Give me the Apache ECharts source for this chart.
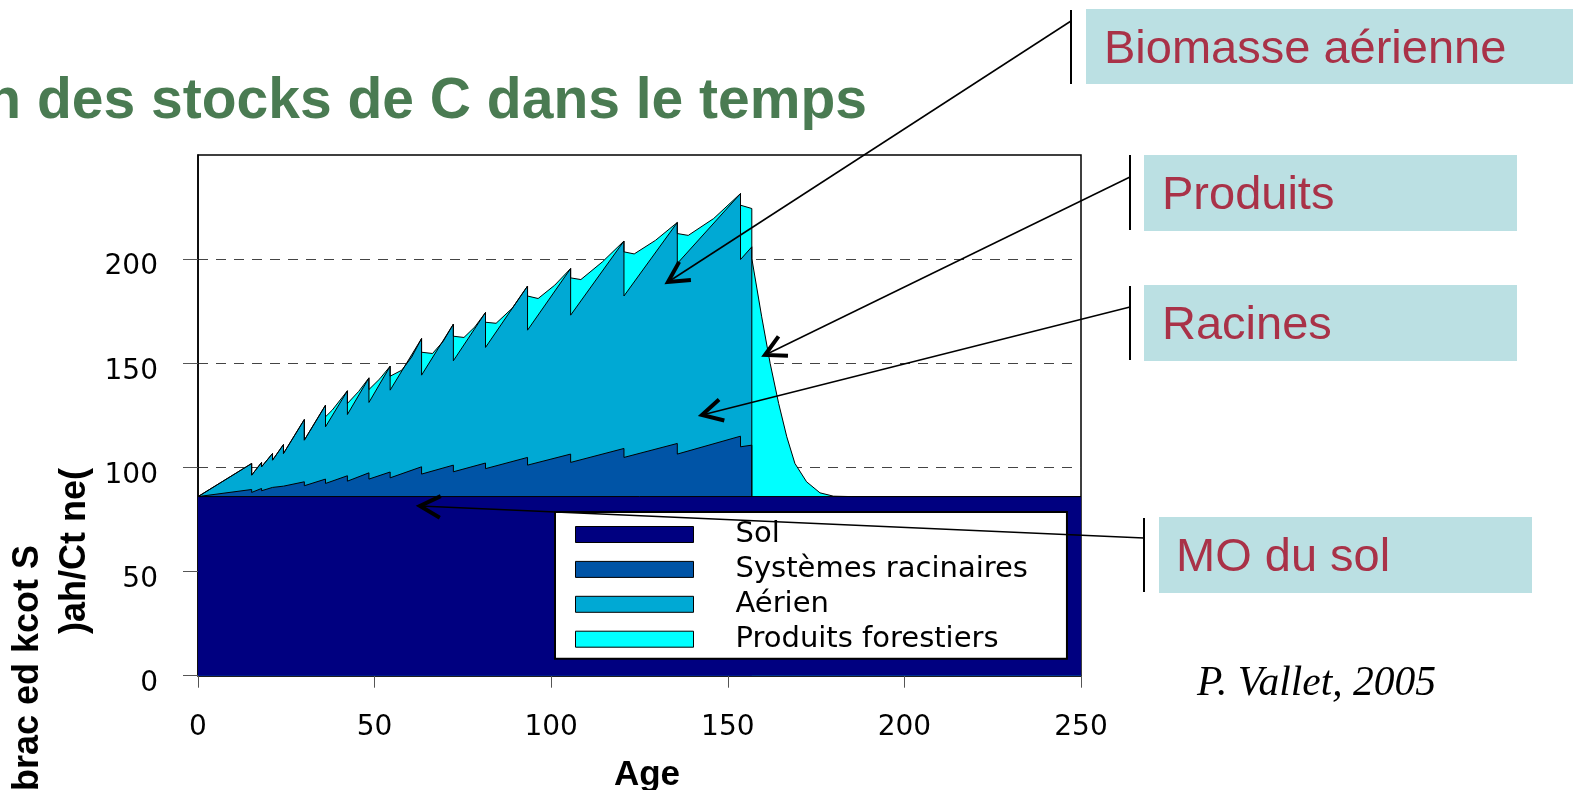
<!DOCTYPE html>
<html>
<head>
<meta charset="utf-8">
<title>Évolution des stocks de C dans le temps</title>
<script src="https://cdn.jsdelivr.net/npm/echarts@6/dist/echarts.min.js"></script>
<style>
  html, body { margin: 0; padding: 0; background: #fff; }
  #chart { width: 1573px; height: 790px; }
</style>
</head>
<body>
<div id="chart"></div>
<script>
// stock de C (tC/ha): hauteurs cumulées des couches
const SOL = 86;
const thinAges    = [15.2, 18, 21.1, 24.2, 30.1, 36.1, 42.3, 48.4, 54.4, 63.3, 72.3, 81.4, 93.3, 105.5, 120.6, 135.7, 153.6];
const aerialPeak  = [101.9, 102.4, 106.7, 111.0, 123.0, 129.9, 136.8, 143.0, 148.6, 161.9, 168.8, 174.4, 187.1, 195.5, 208.7, 217.6, 231.5];
const aerialAfter = [96.3, 100.3, 103.5, 106.7, 113.1, 119.5, 125.4, 131.2, 137.1, 144.3, 151.2, 157.6, 165.9, 173.1, 182.3, 197.9, 199.8];
const rootPeak    = [89.4, 89.9, 90.4, 91.0, 93.1, 94.4, 96.0, 97.4, 97.8, 100.3, 101.1, 102.1, 104.8, 106.4, 109.1, 111.5, 115.0];
const rootAfter   = [88.0, 88.8, 89.5, 90.2, 91.2, 92.3, 93.4, 94.4, 95.0, 96.8, 97.9, 99.4, 101.1, 102.4, 104.8, 106.4, 109.9];
const cutAge = 156.8;
const aerialAtCut = 205.9;
const rootAtCut = 110.7;

// sommet de la couche "Produits forestiers" [âge, stock cumulé]
const produitsTop = [
  [0, 86],
  [15.2, 101.9], [15.2, 96.3], [18, 102.4], [18, 100.3], [21.1, 106.7], [21.1, 103.5],
  [24.2, 111.0], [24.2, 106.7], [30.1, 123.0], [30.1, 113.1],
  [36.1, 129.9], [36.1, 124.3], [38, 127.5],
  [42.3, 136.8], [42.3, 130.7], [45.5, 136.5],
  [48.4, 143.0], [48.4, 137.4], [51.5, 142.6],
  [54.4, 148.6], [54.4, 143.8], [57.7, 146.7], [60.5, 153.0],
  [63.3, 161.9], [63.3, 155.3], [66.4, 154.7], [69.4, 160.5],
  [72.3, 168.8], [72.3, 163.0], [75.3, 162.4], [78.4, 167.5],
  [81.4, 174.4], [81.4, 169.7], [84.4, 169.2], [89, 176.5],
  [93.3, 187.1], [93.3, 182.3], [96.3, 181.1], [101, 187.5],
  [105.5, 195.5], [105.5, 191.0], [108.4, 190.2], [114.5, 198.7],
  [120.6, 208.7], [120.6, 203.5], [123.5, 202.5], [129.5, 209.0],
  [135.7, 217.6], [135.7, 212.3], [138.8, 211.4], [146, 219.5],
  [153.6, 231.5], [153.6, 225.9], [156.8, 224.3], [156.8, 200.3],
  [159.6, 172.3], [162, 149.9], [164.4, 130.7], [166.7, 114.7], [169, 101.9],
  [172.3, 93.1], [176.1, 87.8], [179.9, 86.2], [185, 86], [250, 86]
];

const xTicks = [0, 50, 100, 150, 200, 250];
const yTicks = [0, 50, 100, 150, 200];

const colors = {
  sol: '#000080',
  racines: '#0054a6',
  aerien: '#00a9d4',
  produits: '#00ffff'
};

const boundary = (peaks, afters, atCut) => {
  const pts = [[0, SOL]];
  thinAges.forEach((a, i) => {
    pts.push([a, peaks[i]], [a, afters[i]]);
  });
  pts.push([cutAge, atCut], [cutAge, SOL]);
  return pts;
};

const layer = (name, color, data) => ({
  name,
  type: 'line',
  data,
  symbol: 'none',
  silent: true,
  lineStyle: { color: '#000', width: 1 },
  itemStyle: { color },
  areaStyle: { color, opacity: 1 }
});

// annotations
const arrow = (from, tip) => {
  const dx = from[0] - tip[0], dy = from[1] - tip[1];
  const ang = Math.atan2(dy, dx);
  const spread = 28 * Math.PI / 180, arm = 23;
  const a1 = [tip[0] + arm * Math.cos(ang - spread), tip[1] + arm * Math.sin(ang - spread)];
  const a2 = [tip[0] + arm * Math.cos(ang + spread), tip[1] + arm * Math.sin(ang + spread)];
  return [
    { type: 'line', z: 20, shape: { x1: from[0], y1: from[1], x2: tip[0], y2: tip[1] }, style: { stroke: '#000', lineWidth: 1.5 } },
    { type: 'polyline', z: 20, shape: { points: [a1, tip, a2] }, style: { stroke: '#000', lineWidth: 4, fill: null } }
  ];
};

const labelBox = (text, box, textX, textY, bar) => [
  { type: 'rect', z: 15, shape: box, style: { fill: '#bbe0e3' } },
  { type: 'text', z: 16, x: textX, y: textY, style: { text, fontFamily: 'Liberation Sans', fontSize: 47, fill: '#a93248', align: 'left', verticalAlign: 'middle' } },
  { type: 'line', z: 20, shape: bar, style: { stroke: '#000', lineWidth: 2 } }
];

const reversed = s => s.split('').reverse().join('');

const graphics = [
  { type: 'text', z: 10, x: 867, y: 102, style: { text: 'n des stocks de C dans le temps', fontFamily: 'Liberation Sans', fontWeight: 'bold', fontSize: 57, fill: '#4a7b52', align: 'right', verticalAlign: 'middle' } },
  // titre de l'axe Y, rendu inversé comme sur la figure
  { type: 'text', z: 10, x: 28, y: 545, rotation: Math.PI / 2, style: { text: reversed('S tock de carb'), fontFamily: 'Liberation Sans', fontWeight: 'bold', fontSize: 36, fill: '#000', align: 'right', verticalAlign: 'middle' } },
  { type: 'text', z: 10, x: 75, y: 468, rotation: Math.PI / 2, style: { text: reversed('(en tC/ha)'), fontFamily: 'Liberation Sans', fontWeight: 'bold', fontSize: 36, fill: '#000', align: 'right', verticalAlign: 'middle' } },
  ...labelBox('Biomasse aérienne', { x: 1086, y: 9, width: 487, height: 75 }, 1104, 50, { x1: 1071, y1: 10, x2: 1071, y2: 84 }),
  ...labelBox('Produits', { x: 1144, y: 155, width: 373, height: 76 }, 1162, 196, { x1: 1130, y1: 155, x2: 1130, y2: 230 }),
  ...labelBox('Racines', { x: 1144, y: 285, width: 373, height: 76 }, 1162, 326, { x1: 1130, y1: 286, x2: 1130, y2: 360 }),
  ...labelBox('MO du sol', { x: 1159, y: 517, width: 373, height: 76 }, 1176, 558, { x1: 1144, y1: 518, x2: 1144, y2: 592 }),
  ...arrow([1071, 21], [668, 282]),
  ...arrow([1130, 177], [765, 355]),
  ...arrow([1130, 307], [702, 415]),
  ...arrow([1144, 538], [420, 506]),
  { type: 'text', z: 10, x: 1197, y: 684, style: { text: 'P. Vallet, 2005', fontFamily: 'Liberation Serif', fontStyle: 'italic', fontSize: 41.5, fill: '#000', align: 'left', verticalAlign: 'middle' } }
];

const chart = echarts.init(document.getElementById('chart'));
chart.setOption({
  animation: false,
  backgroundColor: '#fff',
  grid: {
    left: 198, right: 492, top: 155, bottom: 114.3,
    outerBoundsMode: 'none',
    show: true, borderColor: '#000', borderWidth: 1.5, backgroundColor: 'transparent'
  },
  legend: {
    data: ['Sol', 'Systèmes racinaires', 'Aérien', 'Produits forestiers'],
    orient: 'vertical',
    left: 555,
    top: 512,
    icon: 'rect',
    itemWidth: 118,
    itemHeight: 16,
    itemGap: 5.9,
    padding: [8, 39, 5, 20],
    backgroundColor: '#fff',
    borderColor: '#000',
    borderWidth: 2,
    selectedMode: false,
    itemStyle: { borderColor: '#000', borderWidth: 1 },
    textStyle: { fontFamily: 'DejaVu Sans', fontSize: 29, color: '#000', lineHeight: 26, padding: [0, 0, 0, 37] }
  },
  xAxis: {
    type: 'value',
    min: 0,
    max: 250,
    interval: 50,
    name: 'Age',
    nameLocation: 'middle',
    nameGap: 82,
    nameTextStyle: { fontFamily: 'Liberation Sans', fontWeight: 'bold', fontSize: 35, color: '#000', padding: [0, 0, 0, 15] },
    axisLine: { show: true, lineStyle: { color: '#000', width: 1.5 } },
    axisTick: { show: true, length: 12, lineStyle: { color: '#555' }, customValues: xTicks },
    axisLabel: { margin: 38, fontFamily: 'DejaVu Sans', fontSize: 28, color: '#000', customValues: xTicks },
    splitLine: { show: false }
  },
  yAxis: {
    type: 'value',
    min: 0,
    max: 250,
    interval: 50,
    axisLine: { show: true, lineStyle: { color: '#000', width: 1.5 } },
    axisTick: { show: true, length: 15, lineStyle: { color: '#555' }, customValues: yTicks },
    axisLabel: { margin: 40, fontFamily: 'DejaVu Sans', fontSize: 28, color: '#000', verticalAlign: 'top', lineHeight: 16, customValues: yTicks },
    splitLine: { show: true, lineStyle: { color: '#444', type: [10, 8], width: 1 } }
  },
  series: [
    layer('Produits forestiers', colors.produits, produitsTop),
    layer('Aérien', colors.aerien, boundary(aerialPeak, aerialAfter, aerialAtCut)),
    layer('Systèmes racinaires', colors.racines, boundary(rootPeak, rootAfter, rootAtCut)),
    layer('Sol', colors.sol, [[0, SOL], [250, SOL]])
  ],
  graphic: graphics
});
</script>
</body>
</html>
